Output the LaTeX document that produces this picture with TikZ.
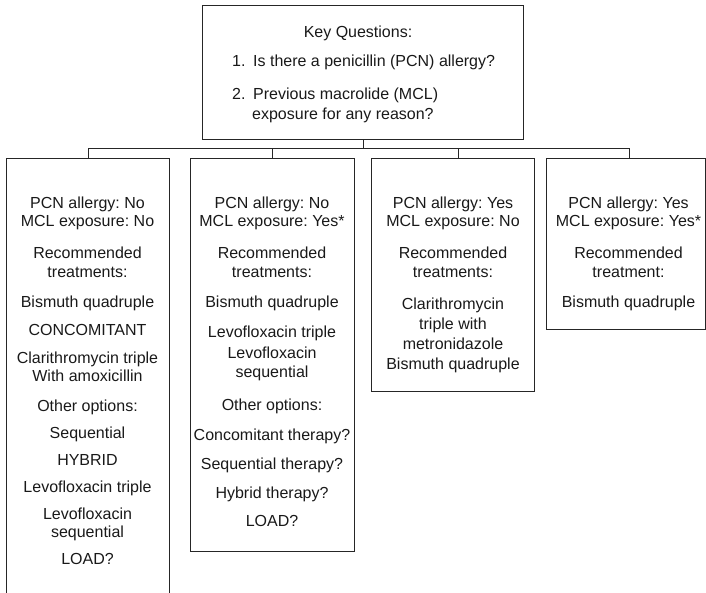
\documentclass[tikz,border=0pt]{standalone}
\usepackage{fontspec}
\setmainfont{Liberation Sans}
\frenchspacing
\begin{document}
\begin{tikzpicture}[x=1pt,y=-1pt,
  box/.style={draw=black!85, line width=1.2pt, rectangle, inner sep=0pt,
              anchor=north west},
  link/.style={draw=black!85, line width=1.2pt},
  txt/.style={anchor=base, inner sep=0pt, text=black!90,
              font=\fontsize{16}{19}\selectfont},
  txtl/.style={txt, anchor=base west}]
\useasboundingbox (0,0) rectangle (706,592);
\clip (0,0) rectangle (706,592);

% question box and the four outcome boxes
\node[box, minimum width=321pt, minimum height=134pt] (top) at (202,5) {};
\node[box, minimum width=163pt, minimum height=500pt] (b1) at (6,158) {};
\node[box, minimum width=164pt, minimum height=393pt] (b2) at (190,158) {};
\node[box, minimum width=163pt, minimum height=233pt] (b3) at (371,158) {};
\node[box, minimum width=159pt, minimum height=171pt] (b4) at (546,158) {};

% tree connectors
\path (top.south) ++(0,8) coordinate (hub);
\draw[link] (top.south) -- (hub);
\draw[link] (b1.north) -- (b1.north |- hub) -- ([xshift=3pt]b4.north |- hub) -- ([xshift=3pt]b4.north);
\draw[link] (b2.north) -- (b2.north |- hub);
\draw[link] ([xshift=5.5pt]b3.north) -- ([xshift=5.5pt]b3.north |- hub);

% question box text
\node[txt] (kq) at (358,37) {Key Questions:};
\node[txtl] (n1) at (232,66) {1.};
\node[txtl] (q1) at (253,66) {Is there a penicillin (PCN) allergy?};
\node[txtl] (n2) at (232,99) {2.};
\node[txtl] (q2a) at (253,99) {Previous macrolide (MCL)};
\node[txtl] (q2b) at (252,119) {exposure for any reason?};

% outcome box texts
\foreach \yy/\line [count=\i] in {
  208/{PCN allergy: No}, 226.5/{MCL exposure: No},
  258/{Recommended}, 277/{treatments:},
  307/{Bismuth quadruple}, 335/{CONCOMITANT},
  363/{Clarithromycin triple}, 381.5/{With amoxicillin},
  411/{Other options:}, 438/{Sequential}, 465/{HYBRID},
  492/{Levofloxacin triple}, 519/{Levofloxacin}, 537.5/{sequential},
  564/{LOAD?}}
  \node[txt] (t1-\i) at (87.5,\yy) {\line};

\foreach \yy/\line [count=\i] in {
  208/{PCN allergy: No}, 226.5/{MCL exposure: Yes*},
  258/{Recommended}, 277/{treatments:},
  307/{Bismuth quadruple}, 337/{Levofloxacin triple},
  358/{Levofloxacin}, 377/{sequential},
  410/{Other options:}, 440/{Concomitant therapy?},
  469/{Sequential therapy?}, 498/{Hybrid therapy?}, 526/{LOAD?}}
  \node[txt] (t2-\i) at (272,\yy) {\line};

\foreach \yy/\line [count=\i] in {
  208/{PCN allergy: Yes}, 226.5/{MCL exposure: No},
  258/{Recommended}, 277/{treatments:},
  309/{Clarithromycin}, 329/{triple with},
  349/{metronidazole}, 369/{Bismuth quadruple}}
  \node[txt] (t3-\i) at (453,\yy) {\line};

\foreach \yy/\line [count=\i] in {
  208/{PCN allergy: Yes}, 226.5/{MCL exposure: Yes*},
  258/{Recommended}, 277/{treatment:},
  307/{Bismuth quadruple}}
  \node[txt] (t4-\i) at (628.5,\yy) {\line};
\end{tikzpicture}
\end{document}
